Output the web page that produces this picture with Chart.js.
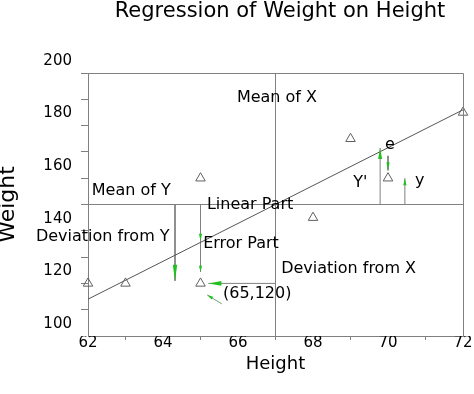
<!DOCTYPE html>
<html lang="en">
<head>
    <meta charset="UTF-8">
    <title>Regression of Weight on Height</title>
    <script src="https://cdn.jsdelivr.net/npm/chart.js"></script>
    <style>
        body {
            margin: 0;
            background-color: #ffffff;
        }

        .wrap {
            position: relative;
            width: 474px;
            height: 394px;
        }

        .chart-title {
            position: absolute;
            left: 0;
            top: 0;
            width: 560px;
            text-align: center;
            font-family: "DejaVu Sans", sans-serif;
            font-size: 21px;
            line-height: 21px;
            color: #000;
            white-space: nowrap;
        }
    </style>
</head>
<body>
    <div class="wrap">
        <canvas id="regChart" width="474" height="394"></canvas>
        <div class="chart-title">Regression of Weight on Height</div>
    </div>

    <script>
        // observed points
        const heights = [62, 63, 65, 65, 68, 69, 70, 72];
        const weights = [120, 120, 120, 160, 145, 175, 160, 185];

        // fitted line end points
        const fitX = [62, 72];
        const fitY = [114, 186];

        const meanHeight = 67;
        const meanWeight = 150;

        // axis ranges
        const xRange = [62, 72];
        const yRange = [100, 200];

        // arrows (start -> end, arrow head at the end)
        const arrowFromX = [64.32, 65, 65, 67, 69.79, 70, 70.45, 65.57];
        const arrowFromY = [150, 150, 136, 120, 150, 168.5, 150, 112.2];
        const arrowToX = [64.32, 65, 65, 65.21, 69.79, 70, 70.45, 65.18];
        const arrowToY = [121, 136.2, 124.4, 120, 171.5, 163, 160, 115.6];

        // text notes (left edge, vertical middle)
        const noteText = ['Mean of X', 'Mean of Y', 'Linear Part', 'Deviation from Y', 'Error Part',
            'Deviation from X', '(65,120)', "Y'", 'e', 'y'];
        const noteX = [65.97, 62.1, 65.17, 60.61, 65.07, 67.15, 65.6, 69.07, 69.92, 70.72];
        const noteY = [190.4, 155.1, 149.8, 137.8, 135.2, 125.5, 116, 158.3, 172.6, 159];

        const gray = '#808080';
        const green = '#20c020';
        const fontFamily = '"DejaVu Sans", sans-serif';
        const headLen = [16, 7, 6, 13, 11, 8, 7, 6];
        const headHalf = [2.2, 1.6, 1.6, 2.3, 2, 1.6, 1.6, 1.6];

        function alignPx(v) {
            return Math.round(v - 0.5) + 0.5;
        }

        const annotate = {
            id: 'annotate',
            afterDatasetsDraw(chart) {
                const { ctx, chartArea: area, scales: { x, y } } = chart;
                ctx.save();

                // top and right frame
                ctx.strokeStyle = gray;
                ctx.lineWidth = 1;
                ctx.beginPath();
                ctx.moveTo(alignPx(area.left), alignPx(area.top));
                ctx.lineTo(alignPx(area.right), alignPx(area.top));
                ctx.lineTo(alignPx(area.right), alignPx(area.bottom));
                ctx.stroke();

                // green arrow heads
                ctx.fillStyle = green;
                arrowToX.forEach((tx, i) => {
                    const x1 = x.getPixelForValue(arrowFromX[i]);
                    const y1 = y.getPixelForValue(arrowFromY[i]);
                    const x2 = x.getPixelForValue(tx);
                    const y2 = y.getPixelForValue(arrowToY[i]);
                    const ang = Math.atan2(y2 - y1, x2 - x1);
                    const bx = x2 - Math.cos(ang) * headLen[i];
                    const by = y2 - Math.sin(ang) * headLen[i];
                    const w = headHalf[i];
                    ctx.beginPath();
                    ctx.moveTo(x2, y2);
                    ctx.lineTo(bx - Math.sin(ang) * w, by + Math.cos(ang) * w);
                    ctx.lineTo(bx + Math.sin(ang) * w, by - Math.cos(ang) * w);
                    ctx.closePath();
                    ctx.fill();
                });

                // notes
                ctx.fillStyle = '#000';
                ctx.font = '16px ' + fontFamily;
                ctx.textAlign = 'left';
                ctx.textBaseline = 'middle';
                noteText.forEach((t, i) => {
                    ctx.fillText(t, x.getPixelForValue(noteX[i]), y.getPixelForValue(noteY[i]));
                });
                ctx.restore();
            }
        };

        const lineSet = (xs, ys, color, width, order) => ({
            data: xs.map((v, i) => ({ x: v, y: ys[i] })),
            showLine: true,
            pointRadius: 0,
            borderColor: color,
            borderWidth: width,
            order: order,
            clip: false
        });

        const datasets = [
            {
                data: heights.map((h, i) => ({ x: h, y: weights[i] })),
                pointStyle: 'triangle',
                pointRadius: 5.5,
                borderColor: '#606060',
                backgroundColor: 'rgba(0,0,0,0)',
                pointBorderWidth: 1,
                order: 0,
                clip: false
            },
            lineSet(fitX, fitY, '#555555', 1, 1),
            lineSet([meanHeight, meanHeight], yRange, gray, 1, 2),
            lineSet(xRange, [meanWeight, meanWeight], gray, 1, 2)
        ];
        arrowFromX.forEach((fx, i) => {
            const color = i === 7 ? '#70a070' : gray;
            datasets.push(lineSet([fx, arrowToX[i]], [arrowFromY[i], arrowToY[i]], color, 1, 3));
        });

        const ctx = document.getElementById('regChart').getContext('2d');
        const regChart = new Chart(ctx, {
            type: 'scatter',
            data: { datasets: datasets },
            options: {
                responsive: false,
                animation: false,
                layout: {
                    padding: { left: 0, right: 11, top: 73, bottom: 0 }
                },
                plugins: {
                    legend: { display: false },
                    tooltip: { enabled: false }
                },
                scales: {
                    x: {
                        type: 'linear',
                        min: xRange[0],
                        max: xRange[1],
                        afterFit: (scale) => { scale.height = 58; },
                        ticks: {
                            stepSize: 1,
                            autoSkip: false,
                            maxRotation: 0,
                            padding: -6,
                            color: '#000',
                            font: { family: fontFamily, size: 15 },
                            callback: (v) => (v % 2 === 0 ? v : '')
                        },
                        grid: {
                            drawOnChartArea: false,
                            drawTicks: true,
                            tickLength: 4,
                            color: (c) => (c.tick && c.tick.value % 2 === 1 ? gray : 'rgba(0,0,0,0)')
                        },
                        border: { display: true, color: gray },
                        title: {
                            display: true,
                            text: 'Height',
                            color: '#000',
                            font: { family: fontFamily, size: 18 },
                            padding: { top: 0, bottom: 19 }
                        }
                    },
                    y: {
                        type: 'linear',
                        min: yRange[0],
                        max: yRange[1],
                        afterFit: (scale) => { scale.width = 88; },
                        ticks: {
                            stepSize: 10,
                            autoSkip: false,
                            padding: 9,
                            labelOffset: -12,
                            color: '#000',
                            font: { family: fontFamily, size: 15 },
                            callback: (v) => (v % 20 === 0 ? v : '')
                        },
                        grid: {
                            drawOnChartArea: false,
                            drawTicks: true,
                            tickLength: 7,
                            color: (c) => (c.tick && c.tick.value === 100 ? 'rgba(0,0,0,0)' : gray)
                        },
                        border: { display: true, color: gray },
                        title: {
                            display: true,
                            text: 'Weight',
                            color: '#000',
                            font: { family: fontFamily, size: 22, lineHeight: 0.78 },
                            padding: { top: 0, bottom: 0 }
                        }
                    }
                }
            },
            plugins: [annotate]
        });
    </script>
</body>
</html>
